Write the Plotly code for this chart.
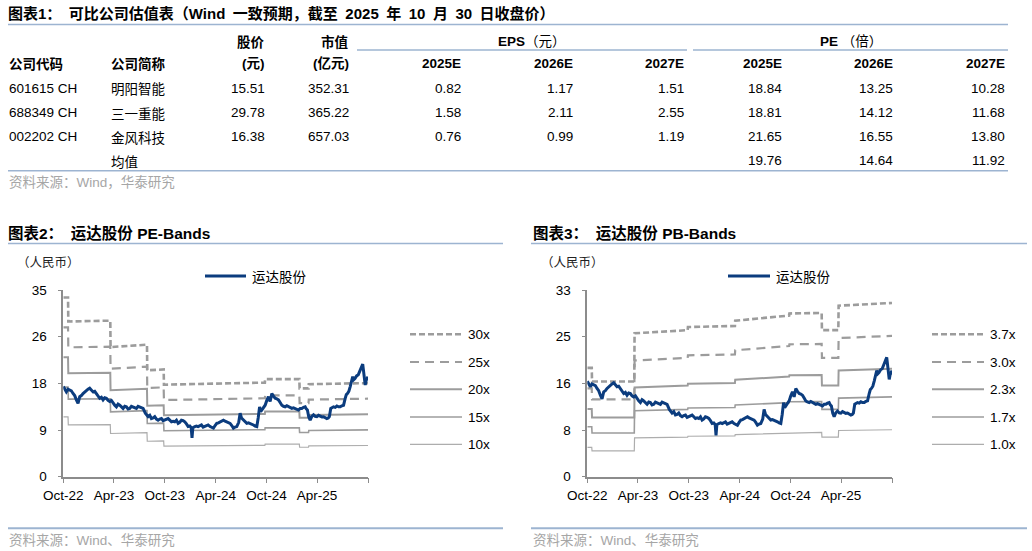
import plotly.graph_objects as go

W, H = 1032, 551


def px(x):
    return x / W


def py(y):
    return 1 - y / H


# ---------------- Table data ----------------
codes = ["601615 CH", "688349 CH", "002202 CH"]
names = ["明阳智能", "三一重能", "金风科技"]
price_col = ["15.51", "29.78", "16.38"]
mktcap_col = ["352.31", "365.22", "657.03"]
eps_2025 = ["0.82", "1.58", "0.76"]
eps_2026 = ["1.17", "2.11", "0.99"]
eps_2027 = ["1.51", "2.55", "1.19"]
pe_2025 = ["18.84", "18.81", "21.65"]
pe_2026 = ["13.25", "14.12", "16.55"]
pe_2027 = ["10.28", "11.68", "13.80"]
avg_label = "均值"
pe_avg = ["19.76", "14.64", "11.92"]

# ---------------- Price series (运达股份) ----------------
price_dates = [
    "2022-10-30", "2022-11-05", "2022-11-10", "2022-11-16", "2022-11-22", "2022-11-28",
    "2022-12-04", "2022-12-10", "2022-12-16", "2022-12-22", "2022-12-28", "2023-01-03",
    "2023-01-09", "2023-01-15", "2023-01-21", "2023-01-27", "2023-02-02", "2023-02-08",
    "2023-02-14", "2023-02-20", "2023-02-26", "2023-03-04", "2023-03-10", "2023-03-16",
    "2023-03-22", "2023-03-28", "2023-04-03", "2023-04-09", "2023-04-15", "2023-04-21",
    "2023-04-27", "2023-05-03", "2023-05-09", "2023-05-15", "2023-05-21", "2023-05-27",
    "2023-06-02", "2023-06-08", "2023-06-14", "2023-06-20", "2023-06-26", "2023-07-02",
    "2023-07-08", "2023-07-14", "2023-07-20", "2023-07-26", "2023-08-01", "2023-08-07",
    "2023-08-13", "2023-08-21", "2023-08-31", "2023-09-06", "2023-09-12", "2023-09-18",
    "2023-09-24", "2023-09-30", "2023-10-06", "2023-10-12", "2023-10-18", "2023-10-24",
    "2023-10-30", "2023-11-05", "2023-11-11", "2023-11-17", "2023-11-23", "2023-11-29",
    "2023-12-05", "2023-12-11", "2023-12-17", "2023-12-23", "2023-12-29", "2024-01-04",
    "2024-01-10", "2024-01-16", "2024-01-22", "2024-01-28", "2024-02-02", "2024-02-05",
    "2024-02-08", "2024-02-15", "2024-02-21", "2024-02-27", "2024-03-04", "2024-03-10",
    "2024-03-16", "2024-03-22", "2024-03-28", "2024-04-03", "2024-04-10", "2024-04-16",
    "2024-04-22", "2024-04-28", "2024-05-04", "2024-05-10", "2024-05-16", "2024-05-22",
    "2024-05-28", "2024-06-03", "2024-06-09", "2024-06-15", "2024-06-21", "2024-06-27",
    "2024-07-03", "2024-07-09", "2024-07-15", "2024-07-22", "2024-07-27", "2024-08-01",
    "2024-08-08", "2024-08-14", "2024-08-20", "2024-08-26", "2024-09-01", "2024-09-07",
    "2024-09-13", "2024-09-19", "2024-09-25", "2024-09-30", "2024-10-05", "2024-10-09",
    "2024-10-13", "2024-10-19", "2024-10-25", "2024-10-31", "2024-11-06", "2024-11-09",
    "2024-11-12", "2024-11-15", "2024-11-18", "2024-11-24", "2024-11-30", "2024-12-06",
    "2024-12-12", "2024-12-18", "2024-12-24", "2024-12-30", "2025-01-05", "2025-01-11",
    "2025-01-17", "2025-01-23", "2025-01-29", "2025-02-04", "2025-02-10", "2025-02-16",
    "2025-02-22", "2025-02-28", "2025-03-06", "2025-03-12", "2025-03-18", "2025-03-22",
    "2025-03-26", "2025-03-31", "2025-04-05", "2025-04-11", "2025-04-17", "2025-04-23",
    "2025-04-29", "2025-05-05", "2025-05-11", "2025-05-17", "2025-05-23", "2025-05-29",
    "2025-06-04", "2025-06-09", "2025-06-13", "2025-06-18", "2025-06-23", "2025-06-28",
    "2025-07-04", "2025-07-10", "2025-07-16", "2025-07-22", "2025-07-28", "2025-08-03",
    "2025-08-09", "2025-08-13", "2025-08-17", "2025-08-22", "2025-08-27", "2025-09-01",
    "2025-09-05", "2025-09-09", "2025-09-13", "2025-09-19", "2025-09-25", "2025-09-29",
    "2025-10-03", "2025-10-08", "2025-10-11", "2025-10-14", "2025-10-17", "2025-10-20",
    "2025-10-23", "2025-10-26", "2025-10-30",
]
price_vals = [
    16.9, 16.3, 15.9, 16.4, 16.25, 16.1,
    15.6, 15.2, 14.4, 13.75, 15.0, 15.2,
    15.6, 15.9, 16.25, 16.4, 16.6, 16.2,
    15.9, 16.0, 15.6, 15.2, 14.7, 14.9,
    14.4, 14.8, 14.7, 14.3, 14.1, 14.3,
    13.75, 13.4, 13.1, 13.6, 13.4, 13.0,
    12.8, 13.2, 13.1, 12.7, 12.8, 13.2,
    13.1, 12.9, 12.8, 13.2, 13.1, 13.0,
    12.8, 11.9, 11.25, 11.5, 10.9, 11.0,
    11.25, 10.8, 10.6, 10.8, 10.9, 10.5,
    10.6, 10.8, 10.9, 10.6, 10.3, 10.4,
    10.3, 10.6, 10.0, 10.2, 10.6, 10.5,
    10.3, 9.9, 9.4, 9.5, 9.2, 7.3,
    9.2, 9.4, 9.5, 9.4, 9.6, 9.7,
    9.3, 9.4, 9.6, 9.7, 9.4, 9.2,
    9.1, 9.6, 10.0, 10.1, 10.3, 10.4,
    10.6, 10.4, 10.3, 10.2, 10.0, 9.6,
    9.1, 9.3, 9.4, 10.2, 11.9, 11.0,
    10.6, 10.2, 10.0, 10.1, 10.0, 9.9,
    9.7, 9.5, 9.4, 11.0, 13.1, 12.2,
    12.5, 13.0, 13.4, 14.3, 15.0, 14.6,
    14.1, 14.8, 15.6, 15.1, 14.7, 14.6,
    14.4, 13.9, 13.4, 13.2, 13.1, 13.3,
    13.1, 13.0, 12.8, 12.9, 12.8, 12.6,
    12.5, 12.8, 12.8, 13.0, 13.1, 12.7,
    12.5, 11.2, 10.6, 11.3, 11.6, 11.3,
    11.25, 11.5, 11.4, 11.2, 11.25, 11.0,
    10.9, 11.0, 11.25, 12.8, 12.9, 13.1,
    13.0, 13.25, 13.1, 13.1, 13.3, 13.4,
    14.7, 15.4, 15.6, 16.0, 16.9, 17.8,
    18.75, 18.2, 18.4, 18.9, 19.1, 19.6,
    20.0, 20.6, 21.1, 19.8, 17.6, 17.2,
    18.0, 18.4, 18.75,
]

# ---------------- PE band base (EPS per 1x) ----------------
eps_dates = [
    "2022-10-30", "2022-11-16", "2022-11-17", "2023-04-17", "2023-04-18", "2023-08-27",
    "2023-08-28", "2023-10-26", "2023-10-27", "2024-10-24", "2024-10-25", "2025-02-25",
    "2025-02-26", "2025-03-30", "2025-03-31", "2025-10-30",
]
eps_vals = [
    1.12, 1.12, 0.97, 0.975, 0.81, 0.825,
    0.665, 0.67, 0.575, 0.588, 0.61, 0.61,
    0.552, 0.552, 0.578, 0.585,
]
pe_multiples = [30, 25, 20, 15, 10]
pe_labels = ["30x", "25x", "20x", "15x", "10x"]

# ---------------- PB band base (BPS per 1x) ----------------
bps_dates = [
    "2022-10-30", "2022-11-15", "2022-11-16", "2023-04-17", "2023-04-18", "2023-10-26",
    "2023-10-27", "2024-04-13", "2024-04-14", "2024-10-25", "2024-10-26", "2025-02-19",
    "2025-02-20", "2025-04-20", "2025-04-21", "2025-10-30",
]
bps_vals = [
    5.2, 5.2, 4.55, 4.55, 6.85, 7.0,
    7.15, 7.2, 7.45, 7.7, 7.8, 7.82,
    7.0, 7.0, 8.17, 8.3,
]
pb_multiples = [3.7, 3.0, 2.3, 1.7, 1.0]
pb_labels = ["3.7x", "3.0x", "2.3x", "1.7x", "1.0x"]

# axis ticks
x_tickvals = ["2022-10-30", "2023-04-30", "2023-10-30", "2024-04-30", "2024-10-30",
              "2025-04-30", "2025-10-30"]
x_ticktext = ["Oct-22", "Apr-23", "Oct-23", "Apr-24", "Oct-24", "Apr-25", ""]
pe_ytickvals = [0, 8.75, 17.5, 26.25, 35]
pe_yticktext = ["0", "9", "18", "26", "35"]
pb_ytickvals = [0, 8.25, 16.5, 24.75, 33]
pb_yticktext = ["0", "8", "16", "25", "33"]

# ---------------- styles ----------------
BLUE = "#0B3C7E"
band_styles = [
    dict(color="#9C9C9C", width=2.6, dash="6px,3px"),
    dict(color="#9C9C9C", width=2.2, dash="9px,6px"),
    dict(color="#9C9C9C", width=2.0, dash="solid"),
    dict(color="#9C9C9C", width=1.6, dash="solid"),
    dict(color="#ADADAD", width=1.2, dash="solid"),
]
RULE = "#9DB4D1"
FONT = "Liberation Sans, Arial, Noto Sans CJK SC"
CJK = "Noto Sans CJK SC, Liberation Sans"
SP = "\u2002"

fig = go.Figure()

# PE chart
for m, st in zip(pe_multiples, band_styles):
    fig.add_trace(go.Scatter(
        x=eps_dates, y=[m * e for e in eps_vals], mode="lines",
        line=dict(color=st["color"], width=st["width"], dash=st["dash"]),
        xaxis="x", yaxis="y", showlegend=False, hoverinfo="skip"))
fig.add_trace(go.Scatter(x=price_dates, y=price_vals, mode="lines",
                         line=dict(color=BLUE, width=3), xaxis="x", yaxis="y",
                         showlegend=False))

# PB chart
for m, st in zip(pb_multiples, band_styles):
    fig.add_trace(go.Scatter(
        x=bps_dates, y=[m * b for b in bps_vals], mode="lines",
        line=dict(color=st["color"], width=st["width"], dash=st["dash"]),
        xaxis="x2", yaxis="y2", showlegend=False, hoverinfo="skip"))
fig.add_trace(go.Scatter(x=price_dates, y=price_vals, mode="lines",
                         line=dict(color=BLUE, width=3), xaxis="x2", yaxis="y2",
                         showlegend=False))

AX = "#8C8C8C"
xcommon = dict(type="date", range=["2022-10-30", "2025-10-30"], tickmode="array",
               tickvals=x_tickvals, ticktext=x_ticktext, showgrid=False, zeroline=False,
               showline=True, linecolor=AX, linewidth=1.5, ticks="outside", ticklen=5,
               tickcolor=AX, tickwidth=1.2, tickfont=dict(family=FONT, size=13.5, color="#000"),
               fixedrange=True, automargin=False)
ycommon = dict(showgrid=False, zeroline=False, showline=True, linecolor=AX, linewidth=1.5,
               ticks="outside", ticklen=4, tickcolor=AX, tickwidth=1.2,
               tickfont=dict(family=FONT, size=13.5, color="#000"), tickmode="array",
               ticklabelstandoff=8, fixedrange=True, automargin=False)

ydom = [py(476.7), py(290)]
fig.update_layout(
    template="none",
    width=W, height=H, margin=dict(l=0, r=0, t=0, b=0, pad=0, autoexpand=False),
    paper_bgcolor="white", plot_bgcolor="white", showlegend=False,
    xaxis=dict(domain=[px(63.3), px(368)], anchor="y", **xcommon),
    yaxis=dict(domain=ydom, anchor="x", range=[0, 35], tickvals=pe_ytickvals,
               ticktext=pe_yticktext, **ycommon),
    xaxis2=dict(domain=[px(587.3), px(892)], anchor="y2", **xcommon),
    yaxis2=dict(domain=ydom, anchor="x2", range=[0, 33], tickvals=pb_ytickvals,
                ticktext=pb_yticktext, **ycommon),
)

shapes = []
annots = []


def hline(x0, x1, y, color=RULE, width=1.5, dash="solid"):
    shapes.append(dict(type="line", xref="paper", yref="paper", x0=px(x0), x1=px(x1),
                       y0=py(y), y1=py(y), line=dict(color=color, width=width, dash=dash)))


def text(x, y, s, anchor="left", size=13.5, color="#000", family=FONT):
    annots.append(dict(xref="paper", yref="paper", x=px(x), y=py(y), text=s,
                       showarrow=False, xanchor=anchor, yanchor="middle",
                       font=dict(family=family, size=size, color=color), borderpad=0))


# ---------- Table ----------
title1 = ("图表1：" + SP + "可比公司估值表（Wind" + SP + "一致预期，截至" + SP + "2025"
          + SP + "年" + SP + "10" + SP + "月" + SP + "30" + SP + "日收盘价）")
text(7, 13.3, "<b>" + title1 + "</b>", size=15)
hline(8, 1008, 24.5)
hline(357, 687, 50)
hline(693, 1008, 50)
hline(8, 1008, 170.7)

text(266, 41, "<b>股价</b>", "right", family=CJK, size=13.5)
text(350, 41, "<b>市值</b>", "right", family=CJK, size=13.5)
text(497, 41, "<b>EPS</b>（元）", "left")
text(819, 41, "<b>PE</b> （倍）", "left")

text(8, 63.5, "<b>公司代码</b>", "left", family=CJK, size=13.5)
text(110, 63.5, "<b>公司简称</b>", "left", family=CJK, size=13.5)
text(266, 63.5, "<b>(元)</b>", "right")
text(350, 63.5, "<b>(亿元)</b>", "right")
col_right = [462, 574, 685, 783, 894, 1006]
for xr, lab in zip(col_right, ["2025E", "2026E", "2027E", "2025E", "2026E", "2027E"]):
    text(xr, 63.5, "<b>" + lab + "</b>", "right")

row_y = [88.3, 112.5, 136.5]
for i, yy in enumerate(row_y):
    text(8, yy, codes[i], "left")
    text(110, yy, names[i], "left", family=CJK, size=13.5)
    text(266, yy, price_col[i], "right")
    text(350, yy, mktcap_col[i], "right")
    vals = [eps_2025[i], eps_2026[i], eps_2027[i], pe_2025[i], pe_2026[i], pe_2027[i]]
    for xr, v in zip(col_right, vals):
        text(xr, yy, v, "right")
text(110, 160.5, avg_label, "left", family=CJK, size=13.5)
for xr, v in zip(col_right[3:], pe_avg):
    text(xr, 160.5, v, "right")
text(8, 182.7, "资料来源：Wind，华泰研究", "left", size=13.5, color="#A6A6A6")

# ---------- Chart titles ----------
text(7, 233, "<b>图表2：" + SP + "运达股份 PE-Bands</b>", size=15.5)
text(532, 233, "<b>图表3：" + SP + "运达股份 PB-Bands</b>", size=15.5)
hline(8, 503, 243.5)
hline(531, 1027, 243.5)
hline(8, 503, 528.3, width=2)
hline(531, 1027, 528.3, width=2)
text(8, 540, "资料来源：Wind、华泰研究", "left", size=13.5, color="#A6A6A6")
text(532, 540, "资料来源：Wind、华泰研究", "left", size=13.5, color="#A6A6A6")

text(16, 261.5, "（人民币）", "left", size=12.5, family=CJK, color="#222")
text(540, 261.5, "（人民币）", "left", size=12.5, family=CJK, color="#222")

# ---------- legends ----------
for lx0, lx1, tx in [(205, 246, 251), (728, 770, 775)]:
    hline(lx0, lx1, 276, color=BLUE, width=3)
    text(tx, 276, "运达股份", "left", family=CJK, size=13.5)

leg_y = [334.3, 362, 389.3, 417, 444.3]
for (lx0, lx1, tx, labels) in [(410, 462, 466.5, pe_labels), (932, 984, 989, pb_labels)]:
    for yy, st, lab in zip(leg_y, band_styles, labels):
        hline(lx0, lx1, yy, color=st["color"], width=st["width"], dash=st["dash"])
        text(tx, yy, lab, "left")

fig.update_layout(shapes=shapes, annotations=annots)
fig.write_html("out.html")
